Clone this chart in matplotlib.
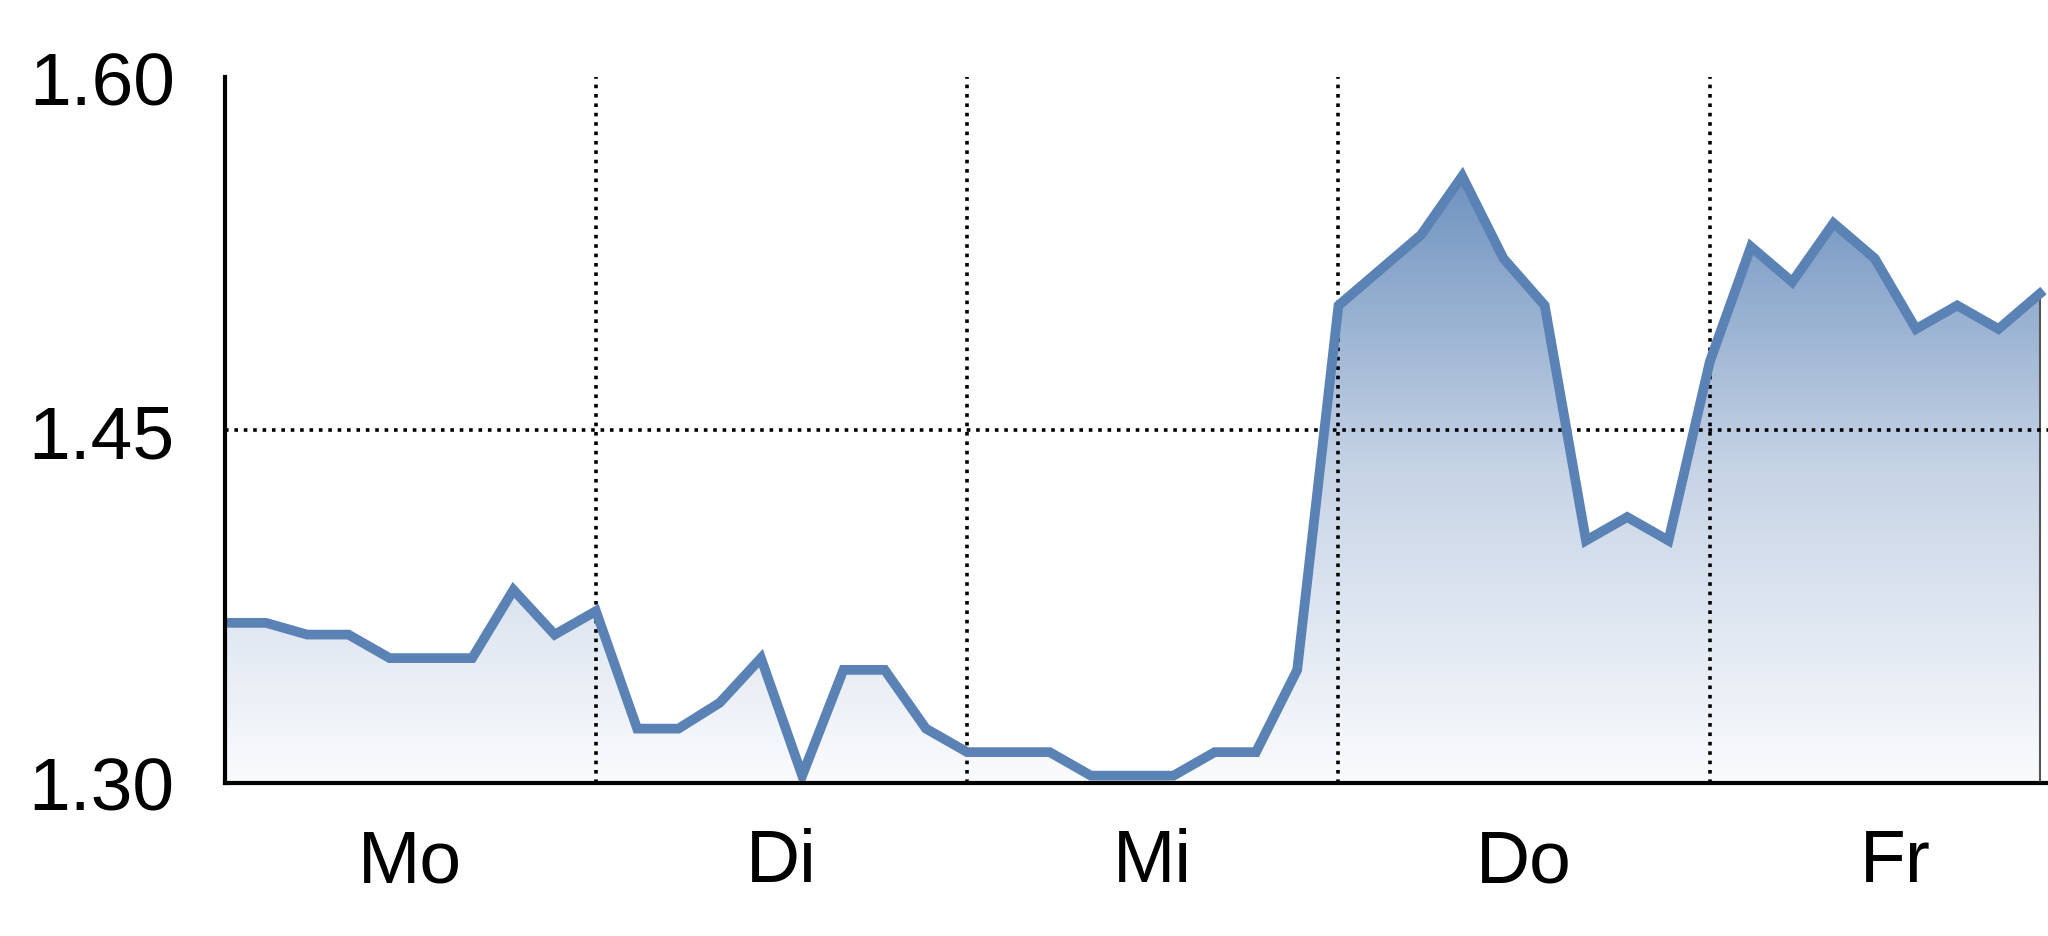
import numpy as np
import matplotlib.pyplot as plt
from matplotlib.colors import LinearSegmentedColormap

days = ["Mo", "Di", "Mi", "Do", "Fr"]
values = [1.368, 1.368, 1.363, 1.363, 1.353, 1.353, 1.353, 1.382, 1.363,
          1.373, 1.323, 1.323, 1.334, 1.353, 1.303, 1.348, 1.348, 1.323,
          1.313, 1.313, 1.313, 1.303, 1.303, 1.303, 1.313, 1.313, 1.348,
          1.503, 1.518, 1.533, 1.558, 1.523, 1.503, 1.403, 1.413, 1.403,
          1.479, 1.528, 1.513, 1.538, 1.523, 1.493, 1.503, 1.493, 1.508]
points_per_day = 9
yticks = [1.30, 1.45, 1.60]
ytick_labels = ["1.30", "1.45", "1.60"]

plt.rcParams['font.family'] = ['Liberation Sans Narrow', 'Liberation Sans', 'DejaVu Sans']

x = np.arange(len(values))
y = np.array(values)

fig = plt.figure(figsize=(20.48, 9.37), dpi=100)
ax = fig.add_axes([0.1097, 0.1636, 1 - 0.1097, 0.9163 - 0.1636])

ymin, ymax = 1.30, 1.60

# gradient fill under the line
cmap = LinearSegmentedColormap.from_list("fade", ["#fafbfd", "#c7d4e6", "#6a8fbd"])
grad = np.linspace(0, 1, 256).reshape(-1, 1)
poly = ax.fill_between(x, y, ymin, color="none")
img = ax.imshow(grad, cmap=cmap, aspect="auto", origin="lower",
                extent=[x[0], x[-1], ymin, 1.565], zorder=1)
img.set_clip_path(poly.get_paths()[0], transform=ax.transData)

ax.plot([x[-1], x[-1]], [ymin, y[-1]], color="#555555", lw=1.5, zorder=2)
ax.plot(x, y, color="#5a82b5", lw=7, solid_joinstyle="miter", zorder=3)

# dotted grid
for d in range(1, len(days)):
    ax.axvline(d * points_per_day, color="black", lw=2.6, ls=(0, (1, 1.6)), zorder=2)
ax.axhline(1.45, color="black", lw=2.6, ls=(0, (1, 1.6)), zorder=2)

ax.set_xlim(0, 44.2)
ax.set_ylim(ymin, ymax)
ax.set_yticks(yticks)
ax.set_yticklabels(ytick_labels, fontsize=54)
ax.set_xticks([d * points_per_day + 4.5 for d in range(len(days))])
ax.set_xticklabels(days, fontsize=54)
ax.tick_params(axis="y", length=0, pad=36)
ax.tick_params(axis="x", length=0, pad=32)

for s in ["top", "right"]:
    ax.spines[s].set_visible(False)
for s in ["left", "bottom"]:
    ax.spines[s].set_linewidth(3)
    ax.spines[s].set_zorder(4)

fig.savefig("out.png", dpi=100)
